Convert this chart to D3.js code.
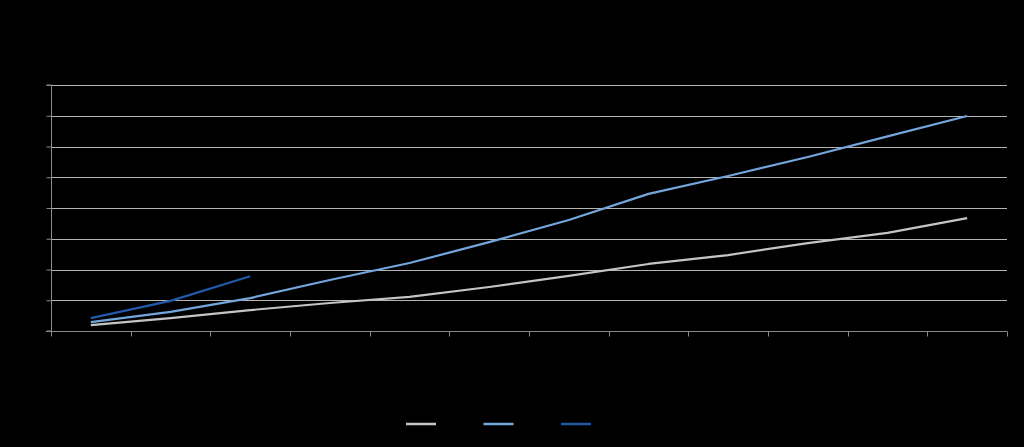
<!DOCTYPE html>
<html>
<head>
<meta charset="utf-8">
<script src="https://cdn.jsdelivr.net/npm/d3@7/dist/d3.min.js"></script>
<style>
html,body{margin:0;padding:0;background:#000;}
svg{display:block;}
</style>
</head>
<body>
<script>
const categories = ["1","2","3","4","5","6","7","8","9","10","11","12"];
const seriesGray = [0.19,0.42,0.68,0.91,1.11,1.43,1.79,2.18,2.47,2.86,3.19,3.67];
const seriesLight = [0.29,0.62,1.07,1.66,2.21,2.89,3.61,4.46,5.04,5.66,6.33,6.99];
const seriesDark = [0.42,0.98,1.78];
const yTicks = [0,1,2,3,4,5,6,7,8];

const W = 1024, H = 447;
const m = {left:51, right:17, top:85, bottom:116};
const svg = d3.select("body").append("svg").attr("width",W).attr("height",H);
svg.append("rect").attr("width",W).attr("height",H).attr("fill","#000");

const x = d3.scaleBand().domain(categories).range([m.left, W-m.right]).padding(0);
const y = d3.scaleLinear().domain([0,8]).range([H-m.bottom, m.top]);

// gridlines
svg.append("g").selectAll("line").data(yTicks.slice(1)).join("line")
  .attr("x1",m.left).attr("x2",W-m.right)
  .attr("y1",d=>Math.round(y(d))+0.5).attr("y2",d=>Math.round(y(d))+0.5)
  .attr("stroke","#b5b5b5").attr("stroke-width",1);

// y axis
const yAxis = svg.append("g").attr("transform",`translate(${m.left+0.5},0)`)
  .call(d3.axisLeft(y).tickValues(yTicks).tickSize(5).tickFormat(""));
yAxis.selectAll("line,path").attr("stroke","#8a8a8a");
yAxis.select(".domain").attr("d",`M-5,${y(8)}H0V${y(0)}H-5`);

// x axis with ticks between categories
const xg = svg.append("g").attr("transform",`translate(0,${Math.round(y(0))+0.5})`);
xg.append("line").attr("x1",m.left-5).attr("x2",W-m.right).attr("stroke","#8a8a8a");
const bounds = categories.map(c=>x(c)).concat([x(categories[categories.length-1])+x.bandwidth()]);
xg.selectAll("line.t").data(bounds).join("line").attr("class","t")
  .attr("x1",d=>Math.round(d)+0.5).attr("x2",d=>Math.round(d)+0.5)
  .attr("y1",0).attr("y2",5).attr("stroke","#8a8a8a");

const cx = i => x(categories[i]) + x.bandwidth()/2;
const line = d3.line().x((d,i)=>cx(i)).y(d=>y(d));

const series = [
  {data:seriesGray, color:"#c4c4c4"},
  {data:seriesLight, color:"#74a6de"},
  {data:seriesDark, color:"#2359a8"}
];
svg.append("g").selectAll("path").data(series).join("path")
  .attr("d",d=>line(d.data)).attr("fill","none")
  .attr("stroke",d=>d.color).attr("stroke-width",2.2)
  .attr("stroke-linejoin","round").attr("stroke-linecap","butt");

// legend swatches
const lg = svg.append("g");
const lx = d3.scalePoint().domain(series.map((d,i)=>i)).range([406,561]);
lg.selectAll("line").data(series).join("line")
  .attr("x1",(d,i)=>lx(i)).attr("x2",(d,i)=>lx(i)+30)
  .attr("y1",424).attr("y2",424)
  .attr("stroke",d=>d.color).attr("stroke-width",2.5);
</script>
</body>
</html>
